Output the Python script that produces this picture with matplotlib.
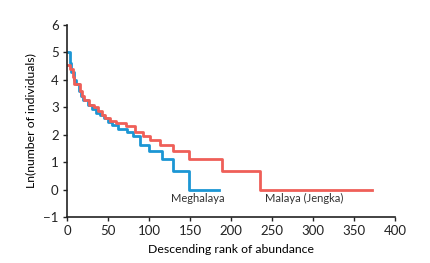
import numpy as np
import matplotlib.pyplot as plt

plt.rcParams['font.family'] = ['Lato', 'DejaVu Sans']

# step start ranks and ln(abundance) levels
megh_rank = [1, 3, 5, 8, 11, 14, 17, 20, 25, 30, 35, 40, 45, 50, 55, 62,
             73, 80, 89, 100, 116, 129, 149, 185]
megh_ln = [5.0, 4.6, 4.3, 4.0, 3.85, 3.6, 3.4, 3.25, 3.1, 2.95, 2.8, 2.7,
           2.6, 2.48, 2.36, 2.2, 2.08, 1.95, 1.61, 1.39, 1.1, 0.69, 0, 0]

mal_rank = [1, 4, 7, 9, 16, 18, 21, 27, 33, 38, 42, 46, 52, 60, 72, 83, 93,
            101, 113, 129, 149, 189, 235, 372]
mal_ln = [4.55, 4.4, 4.1, 3.85, 3.6, 3.4, 3.25, 3.1, 3.0, 2.85, 2.7, 2.6,
          2.5, 2.43, 2.3, 2.08, 1.95, 1.79, 1.61, 1.39, 1.1, 0.69, 0, 0]

fig = plt.figure(figsize=(4.3, 2.63), dpi=100)
ax = fig.add_axes([0.156, 0.175, 0.763, 0.73])

ax.plot(megh_rank, megh_ln, drawstyle='steps-post', color='#1c96d4', lw=2)
ax.plot(mal_rank, mal_ln, drawstyle='steps-post', color='#ef5f58', lw=2)

ax.text(127, -0.33, 'Meghalaya', fontsize=8, color='#333333', va='center')
ax.text(241, -0.33, 'Malaya (Jengka)', fontsize=8, color='#333333', va='center')

ax.set_xlim(0, 400)
ax.set_ylim(-1, 6)
ax.set_xticks(np.arange(0, 401, 50))
ax.set_yticks(np.arange(-1, 7, 1))
for s in ['top', 'right']:
    ax.spines[s].set_visible(False)
for s in ['left', 'bottom']:
    ax.spines[s].set_linewidth(1.2)
    ax.spines[s].set_color('#222222')
ax.tick_params(direction='out', length=3, width=1, labelsize=9.5, colors='#222222', pad=3)
ax.set_xlabel('Descending rank of abundance', fontsize=8.8, labelpad=5)
ax.set_ylabel('Ln(number of individuals)', fontsize=8.8, labelpad=5)

fig.savefig('out.png', dpi=100)
